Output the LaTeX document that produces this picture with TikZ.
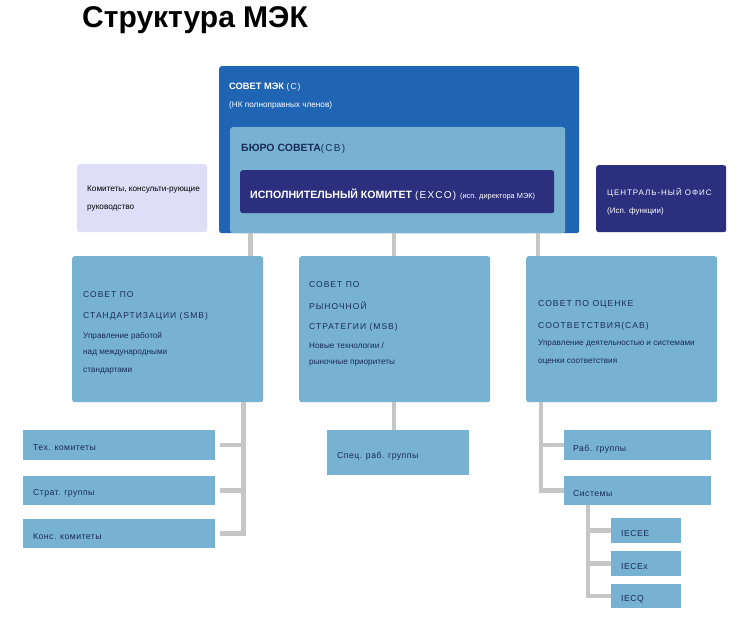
\documentclass[tikz,border=0pt]{standalone}
\usepackage{fontspec}
\setmainfont{Liberation Sans}
\newfontfamily\spfont[LetterSpace=12]{Liberation Sans}
\newfontfamily\smfont[LetterSpace=5]{Liberation Sans}
\usetikzlibrary{calc}
\definecolor{outerblue}{HTML}{1F65B3}
\definecolor{lightblue}{HTML}{78B2D3}
\definecolor{navy}{HTML}{2B2F7E}
\definecolor{lavender}{HTML}{DEDEF9}
\definecolor{conngray}{HTML}{C6C6C6}
\definecolor{txtdark}{HTML}{1A2A5C}
\tikzset{
  box/.style={anchor=north west, inner sep=0pt, rounded corners=2.5pt},
  lb/.style={box, fill=lightblue},
  nb/.style={box, fill=navy},
  conn/.style={draw=conngray, line width=4.5pt},
  lbl/.style={anchor=west, inner sep=0pt, text=txtdark},
  wlbl/.style={anchor=west, inner sep=0pt, text=white},
}
\newcommand\fs[1]{\fontsize{#1}{#1}\selectfont}
\begin{document}
\begin{tikzpicture}[x=1pt,y=-1pt]
\useasboundingbox (0,0) rectangle (752,618);
\fill[white] (0,0) rectangle (752,618);

% title
\node[anchor=base west, inner sep=0pt] (title) at (82,28) {\fs{30}\bfseries Структура МЭК};

% top structure
\node[box, fill=outerblue, minimum width=360pt, minimum height=167pt] (c) at (219,66) {};
\node[lb, minimum width=335pt, minimum height=106pt] (cb) at (230,127) {};
\node[nb, minimum width=314pt, minimum height=43pt] (exco) at (240,170) {};
\node[box, fill=lavender, minimum width=130pt, minimum height=68pt] (adv) at (77,164) {};
\node[nb, minimum width=130pt, minimum height=67pt] (co) at (596,165) {};

\node[wlbl] (ct1) at (229,87) {\fs{9.3}\bfseries СОВЕТ МЭК \mdseries\spfont\fs{8.5}(С)};
\node[wlbl] (ct2) at (229,105) {\fs{8.2}(НК полноправных членов)};
\node[lbl] (cbt) at (241,149) {\fs{10.5}\bfseries БЮРО СОВЕТА\mdseries\spfont\fs{10}(СВ)};
\node[wlbl] (excot) at (250,195) {\fs{10.6}\bfseries ИСПОЛНИТЕЛЬНЫЙ КОМИТЕТ \mdseries\spfont\fs{10}(EXCO) \fs{7.4}\rmfamily(исп. директора МЭК)};
\node[lbl, text=black] (advt1) at (87,190) {\fs{8.2}Комитеты, консульти-рующие};
\node[lbl, text=black] (advt2) at (87,208) {\fs{8.2}руководство};
\node[wlbl] (cot1) at (607,193) {\spfont\fs{8}ЦЕНТРАЛЬ-НЫЙ ОФИС};
\node[wlbl] (cot2) at (607,211) {\fs{8}(Исп. функции)};

% councils
\node[lb, minimum width=191pt, minimum height=146pt] (smb) at (72,256) {};
\node[lb, minimum width=191pt, minimum height=146pt] (msb) at (299,256) {};
\node[lb, minimum width=191pt, minimum height=146pt] (cab) at (526,256) {};

\node[lbl] (smb1) at (83,295) {\spfont\fs{8.5}СОВЕТ ПО};
\node[lbl] (smb2) at (83,316) {\spfont\fs{8.5}СТАНДАРТИЗАЦИИ (SMB)};
\node[lbl] (smb3) at (83,336) {\fs{8.2}Управление работой};
\node[lbl] (smb4) at (83,353) {\fs{8.2}над международными};
\node[lbl] (smb5) at (83,371) {\fs{8.2}стандартами};

\node[lbl] (msb1) at (309,285) {\spfont\fs{8.5}СОВЕТ ПО};
\node[lbl] (msb2) at (309,306) {\spfont\fs{8.5}РЫНОЧНОЙ};
\node[lbl] (msb3) at (309,327) {\spfont\fs{8.5}СТРАТЕГИИ (MSB)};
\node[lbl] (msb4) at (309,346) {\fs{8.2}Новые технологии /};
\node[lbl] (msb5) at (309,363) {\fs{8.2}рыночные приоритеты};

\node[lbl] (cab1) at (538,304) {\spfont\fs{8.6}СОВЕТ ПО ОЦЕНКЕ};
\node[lbl] (cab2) at (538,326) {\spfont\fs{8.6}СООТВЕТСТВИЯ(CAB)};
\node[lbl] (cab3) at (538,344) {\fs{8.2}Управление деятельностью и системами};
\node[lbl] (cab4) at (538,362) {\fs{8.2}оценки соответствия};

% sub boxes
\node[lb, rounded corners=0pt, minimum width=192pt, minimum height=30pt] (tc) at (23,430) {};
\node[lb, rounded corners=0pt, minimum width=192pt, minimum height=29pt] (sg) at (23,476) {};
\node[lb, rounded corners=0pt, minimum width=192pt, minimum height=29pt] (kk) at (23,519) {};
\node[lb, rounded corners=0pt, minimum width=142pt, minimum height=45pt] (spec) at (327,430) {};
\node[lb, rounded corners=0pt, minimum width=147pt, minimum height=30pt] (rg) at (564,430) {};
\node[lb, rounded corners=0pt, minimum width=147pt, minimum height=29pt] (sys) at (564,476) {};
\node[lb, rounded corners=0pt, minimum width=70pt, minimum height=25pt] (iecee) at (611,518) {};
\node[lb, rounded corners=0pt, minimum width=70pt, minimum height=25pt] (iecex) at (611,551) {};
\node[lb, rounded corners=0pt, minimum width=70pt, minimum height=24pt] (iecq) at (611,584) {};

\node[lbl] (tct) at (33,448) {\smfont\fs{8.7}Тех. комитеты};
\node[lbl] (sgt) at (33,493) {\smfont\fs{8.7}Страт. группы};
\node[lbl] (kkt) at (33,537) {\smfont\fs{8.7}Конс. комитеты};
\node[lbl] (spect) at (337,456) {\smfont\fs{8.7}Спец. раб. группы};
\node[lbl] (rgt) at (573,449) {\smfont\fs{8.7}Раб. группы};
\node[lbl] (syst) at (573,493) {\smfont\fs{8.7}Системы};
\node[lbl] (ieceet) at (621,533) {\smfont\fs{8.7}IECEE};
\node[lbl] (iecext) at (621,566) {\smfont\fs{8.7}IECEx};
\node[lbl] (iecqt) at (621,599) {\smfont\fs{8.7}IECQ};

% connectors
\draw[conn] ($(exco.east)+(0,1)$) -- ($(exco.east)+(0,1)$ -| co.west);

\coordinate (t1) at ($(smb.north east)+(-13,0)$);
\coordinate (t2) at ($(msb.north)+(-0.5,0)$);
\coordinate (t3) at ($(cab.north west)+(12,0)$);
\draw[conn] (t1) -- (t1 |- cb.south);
\draw[conn] (t2) -- (t2 |- cb.south);
\draw[conn] (t3) -- (t3 |- cb.south);

\coordinate (sv) at ($(smb.south east)+(-20,0)$);
\draw[conn] (sv) |- ($(kk.east)+(5,0)$);
\draw[conn] ($(tc.east)+(5,0)$) -- (tc.east -| sv);
\draw[conn] ($(sg.east)+(5,0)$) -- (sg.east -| sv);

\coordinate (mv) at ($(msb.south)+(-0.5,0)$);
\draw[conn] (mv) -- (mv |- spec.north);

\coordinate (cv) at ($(cab.south west)+(15,0)$);
\draw[conn] (cv) |- (sys.west);
\draw[conn] (rg.west -| cv) -- (rg.west);

\coordinate (yv) at ($(sys.south west)+(24,0)$);
\draw[conn] (yv) |- (iecq.west);
\draw[conn] (iecee.west -| yv) -- (iecee.west);
\draw[conn] (iecex.west -| yv) -- (iecex.west);
\end{tikzpicture}
\end{document}
